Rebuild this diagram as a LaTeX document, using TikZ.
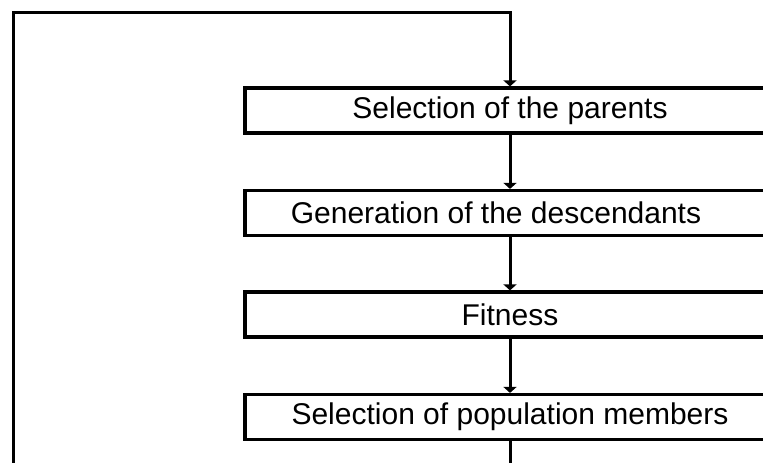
\documentclass[tikz,border=0pt]{standalone}
\usepackage{fontspec}
\setmainfont{Liberation Sans}
\usetikzlibrary{arrows.meta}
\tikzset{
  stage/.style={draw, line width=3.2pt, minimum width=530pt, minimum height=45pt,
    inner sep=0pt, font=\fontsize{30}{36}\selectfont},
  flow/.style={line width=3pt, -{Triangle[length=6pt,width=13pt]}}
}
\begin{document}
\begin{tikzpicture}[x=1pt,y=-1pt]
                    % Frame of the crop
                    \useasboundingbox (0,0) rectangle (763,463);
                    \clip (0,0) rectangle (763,463);
                    % Stages
                    \node[stage] (parents) at (510,110.5) {Selection of the parents};
                    \node[stage] (descendants) at (510,213) {Generation of the descendants\kern28pt};
                    \node[stage] (fitness) at (510,314.5) {Fitness};
                    \node[stage] (members) at (510,417) {Selection of population members};
                    % Arrows
                    \draw[flow] (parents) -- (descendants);
                    \draw[flow] (descendants) -- (fitness);
                    \draw[flow] (fitness) -- (members);
                    % Loop back
                    \coordinate (back) at (13,500);
                    \coordinate (corner) at (13,12.5);
                    \draw[flow]
                       (members.south)
                    |- (back)
                    -- (corner)
                    -| (parents.north);
                \end{tikzpicture}
\end{document}
